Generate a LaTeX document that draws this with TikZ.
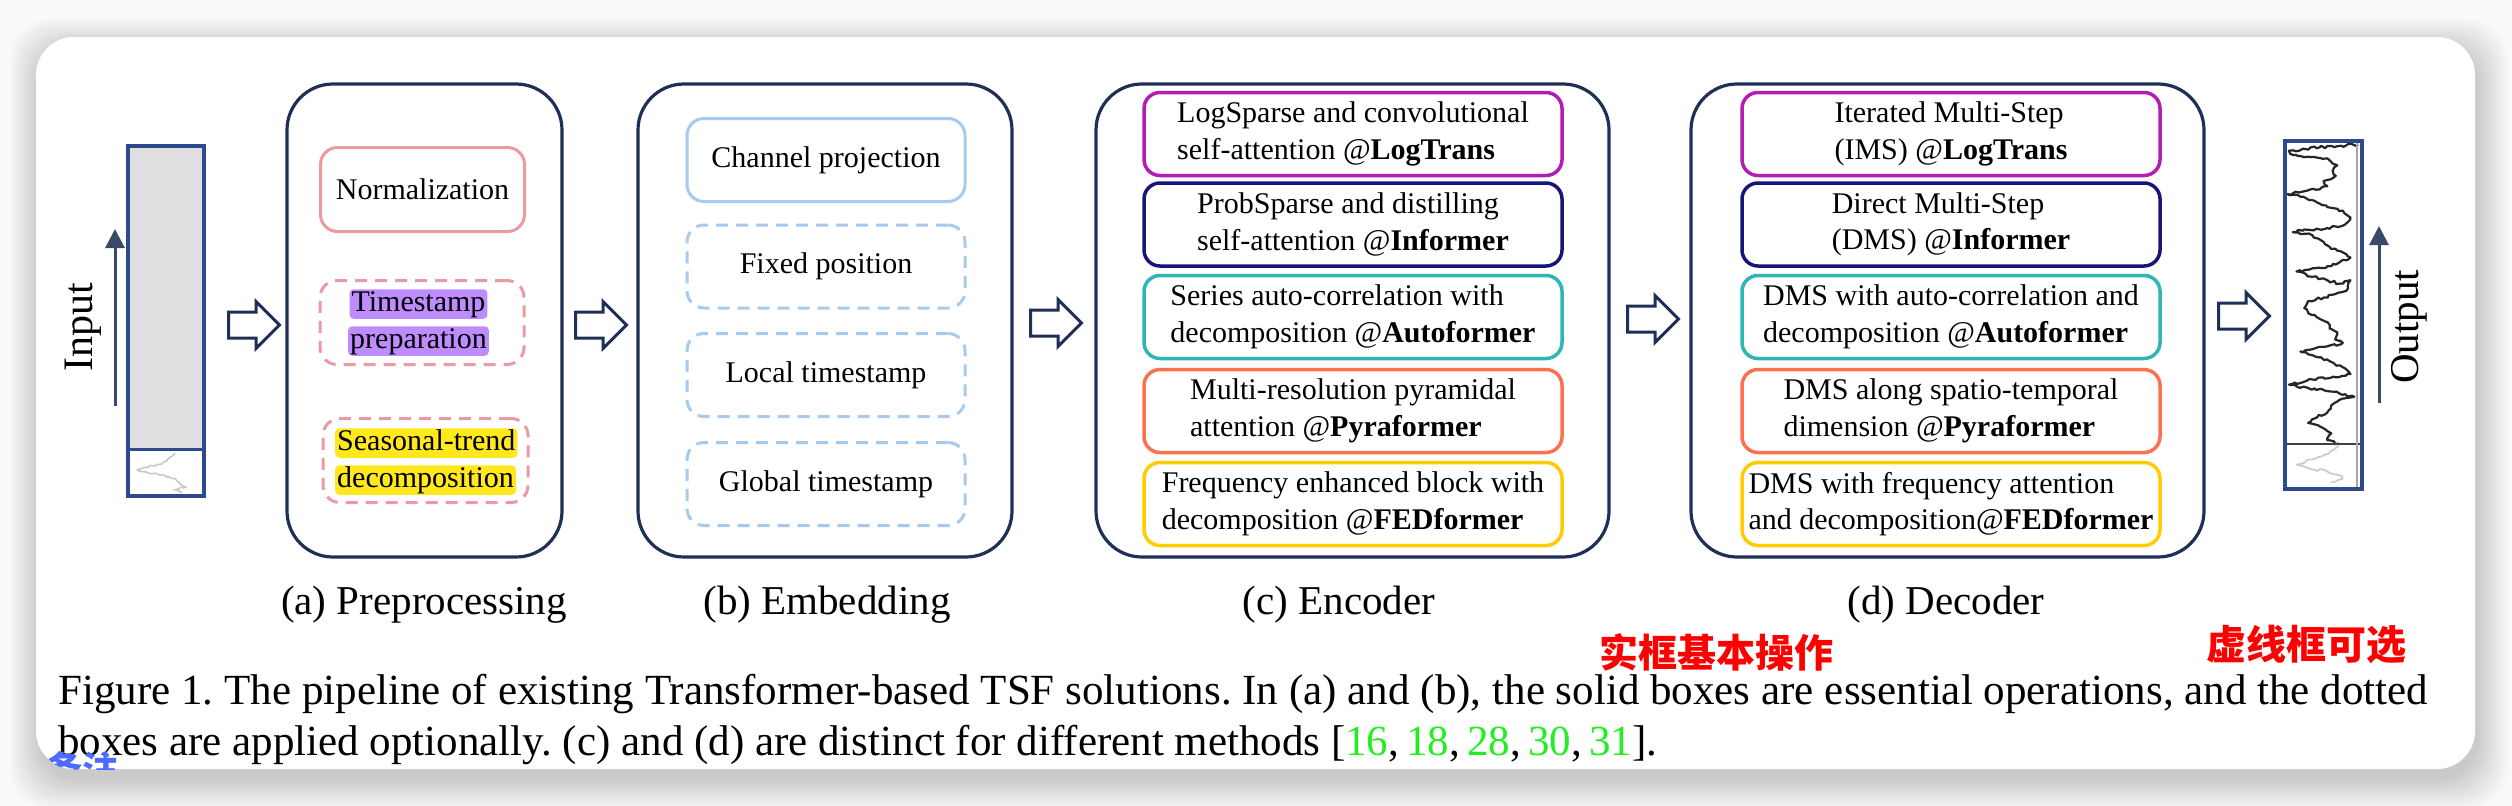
\documentclass[tikz,border=0pt]{standalone}
\usepackage{fontspec}
\setmainfont{Liberation Serif}
\newfontfamily\cjkfont{Noto Sans CJK SC}
\usetikzlibrary{shapes.arrows,arrows.meta,decorations.pathmorphing}
\definecolor{navy}{HTML}{1F2F57}
\definecolor{barblue}{HTML}{2C4A8C}
\definecolor{bargray}{HTML}{E0DEE0}
\definecolor{arrowslate}{HTML}{3A4A66}
\definecolor{pinkc}{HTML}{EA9AA0}
\definecolor{purpleh}{HTML}{BF8CFF}
\definecolor{yellowh}{HTML}{FFE81C}
\definecolor{lblue}{HTML}{A8CAEC}
\definecolor{cmag}{HTML}{B31DB3}
\definecolor{cnavy}{HTML}{15157A}
\definecolor{cteal}{HTML}{2EB6B6}
\definecolor{ccoral}{HTML}{FF7050}
\definecolor{cgold}{HTML}{FFCC00}
\definecolor{cgreen}{HTML}{22EE22}
\definecolor{cred}{HTML}{FF0000}
\definecolor{cblue}{HTML}{4D6BFF}
\definecolor{pagebg}{HTML}{FAFAFA}
\newcommand\fInner{\fontsize{30}{36.5}\selectfont}
\newcommand\fSub{\fontsize{41}{49}\selectfont}
\newcommand\fCap{\fontsize{43}{51}\selectfont}
\newcommand\fSide{\fontsize{42}{50}\selectfont}
\begin{document}
\begin{tikzpicture}[x=1pt,y=-1pt,
  outerbox/.style={draw=navy, line width=3.2pt, rounded corners=46pt, fill=white, inner sep=0pt},
  pinkbox/.style={draw=pinkc, line width=3pt, rounded corners=17pt, inner sep=0pt, minimum width=204pt, minimum height=84pt, font=\fInner},
  bluebox/.style={draw=lblue, line width=3pt, rounded corners=17pt, inner sep=0pt, minimum width=278pt, minimum height=83pt, font=\fInner},
  optbox/.style={dash pattern=on 12pt off 8pt},
  encbox/.style={draw=#1, line width=3.5pt, rounded corners=16pt, minimum width=418pt, minimum height=83pt, inner sep=0pt, align=left, font=\fInner, fill=white},
  hl/.style={fill=#1, rounded corners=4pt, inner xsep=2pt, inner ysep=1pt, text height=21pt, text depth=6.5pt, font=\fInner},
  harrow/.style={single arrow, draw=navy, fill=white, line width=3pt, minimum height=51pt, minimum width=44pt, inner xsep=0pt, inner ysep=11.5pt, single arrow head extend=10.5pt, anchor=tail},
  subcap/.style={anchor=base, font=\fSub, inner sep=0pt},
  vlabel/.style={rotate=90, font=\fSide, inner sep=0pt},
  timearrow/.style={draw=arrowslate, line width=3pt, -{Triangle[length=19pt, width=19pt]}},
  jagged/.style={decorate, decoration={random steps, segment length=3pt, amplitude=1.3pt}}
]
\pgfmathsetseed{7}
\useasboundingbox (0,0) rectangle (2512,806);
\fill[pagebg] (0,0) rectangle (2512,806);
% card shadow
\foreach \i in {0,...,15}{
  \fill[black, opacity=0.011, rounded corners=42pt] ({39-2*\i},{48-2*\i}) rectangle ({2478+2*\i},{780+2*\i});
}
% card
\fill[white, rounded corners=38pt] (36,37) rectangle (2475,769);

% ---------- input bar ----------
\fill[bargray] (128,146) rectangle (204,449);
\fill[white] (128,449) rectangle (204,496);
\begin{scope}[shift={(128,146)}, x=76pt, y=-350pt]
  \draw[black!22, line width=1.6pt, line join=round, jagged]
    (0.62,0.878) -- (0.55,0.89) -- (0.51,0.90) -- (0.38,0.91) -- (0.22,0.918) -- (0.12,0.925)
    -- (0.2,0.93) -- (0.29,0.936) -- (0.42,0.94) -- (0.51,0.945) -- (0.58,0.95) -- (0.64,0.956)
    -- (0.68,0.963) -- (0.71,0.97) -- (0.77,0.975) -- (0.66,0.98) -- (0.6,0.982) -- (0.71,0.99);
\end{scope}
\draw[barblue, line width=3.5pt] (128,146) rectangle (204,496);
\draw[barblue, line width=3pt] (128,449) -- (204,449);
\coordinate (inA) at (115,406);
\coordinate (inB) at (115,229);
\draw[timearrow] (inA) -- (inB);
\node[vlabel] (inlabel) at (83,327) {Input};

% ---------- hollow arrows ----------
\node[harrow] (arr1) at (227,325) {};
\node[harrow] (arr2) at (574,325) {};
\node[harrow] (arr3) at (1029,323) {};
\node[harrow] (arr4) at (1626,319) {};
\node[harrow] (arr5) at (2217,316) {};

% ---------- (a) preprocessing ----------
\node[outerbox, minimum width=275pt, minimum height=473pt] (pre) at (424.5,320.5) {};
\node[pinkbox] (norm) at (422.5,189.5) {Normalization};
\node[pinkbox, optbox] (tsbox) at (422,322.5) {};
\node[hl=purpleh] (ts1) at (418.5,304) {Timestamp};
\node[hl=purpleh] (ts2) at (418.5,341) {preparation};
\node[pinkbox, optbox, minimum width=205pt] (stbox) at (425.5,460.5) {};
\node[hl=yellowh, anchor=west] (st1) at (335,443) {Seasonal-trend};
\node[hl=yellowh, anchor=west] (st2) at (335,480) {decomposition};
\node[subcap] (capa) at (424,614) {(a) Preprocessing};

% ---------- (b) embedding ----------
\node[outerbox, minimum width=374pt, minimum height=473pt] (emb) at (825,320.5) {};
\node[bluebox] (chan) at (826,160) {Channel projection};
\node[bluebox, optbox] (fixpos) at (826,266.5) {Fixed position};
\node[bluebox, optbox] (localts) at (826,375) {Local timestamp};
\node[bluebox, optbox] (globalts) at (826,484) {Global timestamp};
\node[subcap] (capb) at (827,614) {(b) Embedding};

% ---------- (c) encoder ----------
\node[outerbox, minimum width=513pt, minimum height=473pt] (enc) at (1352.5,320.5) {};
\node[encbox=cmag] (e1) at (1353,134) {LogSparse and convolutional\\self-attention @\textbf{LogTrans}};
\node[encbox=cnavy] (e2) at (1353,224.5) {ProbSparse and distilling\\self-attention @\textbf{Informer}};
\node[encbox=cteal] (e3) at (1353,317) {Series auto-correlation with\\decomposition @\textbf{Autoformer}};
\node[encbox=ccoral] (e4) at (1353,411) {Multi-resolution pyramidal\\attention @\textbf{Pyraformer}};
\node[encbox=cgold] (e5) at (1353,504) {Frequency enhanced block with\\decomposition @\textbf{FEDformer}};
\node[subcap] (capc) at (1339,614) {(c) Encoder};

% ---------- (d) decoder ----------
\node[outerbox, minimum width=513pt, minimum height=473pt] (dec) at (1947.5,320.5) {};
\node[encbox=cmag] (d1) at (1951,134) {Iterated Multi-Step\\(IMS) @\textbf{LogTrans}};
\node[encbox=cnavy] (d2) at (1951,224.5) {Direct Multi-Step\\(DMS) @\textbf{Informer}};
\node[encbox=cteal] (d3) at (1951,317) {DMS with auto-correlation and\\decomposition @\textbf{Autoformer}};
\node[encbox=ccoral] (d4) at (1951,411) {DMS along spatio-temporal\\dimension @\textbf{Pyraformer}};
\node[encbox=cgold] (d5) at (1951,504) {DMS with frequency attention\\and decomposition@\textbf{FEDformer}};
\node[subcap] (capd) at (1946,614) {(d) Decoder};

% ---------- output bar ----------
\fill[white] (2285,141) rectangle (2362,489);
\begin{scope}[shift={(2285,141)}, x=77pt, y=-348pt]
  \draw[black!85, line width=2.2pt, line join=round, jagged]
    (0.95,0.01) -- (0.45,0.018) -- (0.05,0.028) -- (0.1,0.04) -- (0.3,0.045) -- (0.55,0.05)
    -- (0.6,0.06) -- (0.68,0.07) -- (0.62,0.085) -- (0.66,0.1) -- (0.5,0.115) -- (0.55,0.13)
    -- (0.4,0.14) -- (0.02,0.152) -- (0.2,0.16) -- (0.35,0.17) -- (0.45,0.18) -- (0.55,0.19)
    -- (0.75,0.2) -- (0.85,0.22) -- (0.78,0.24) -- (0.55,0.25) -- (0.3,0.255) -- (0.1,0.262)
    -- (0.35,0.27) -- (0.5,0.29) -- (0.6,0.31) -- (0.75,0.32) -- (0.85,0.335) -- (0.7,0.35)
    -- (0.55,0.36) -- (0.3,0.37) -- (0.15,0.375) -- (0.35,0.39) -- (0.55,0.4) -- (0.7,0.41)
    -- (0.85,0.40) -- (0.8,0.43) -- (0.65,0.44) -- (0.5,0.45) -- (0.3,0.46) -- (0.25,0.48)
    -- (0.35,0.5) -- (0.55,0.52) -- (0.6,0.54) -- (0.68,0.55) -- (0.65,0.57) -- (0.75,0.58)
    -- (0.55,0.59) -- (0.3,0.6) -- (0.2,0.605) -- (0.4,0.62) -- (0.6,0.635) -- (0.75,0.65)
    -- (0.85,0.67) -- (0.6,0.68) -- (0.35,0.685) -- (0.05,0.7) -- (0.3,0.71) -- (0.6,0.72)
    -- (0.9,0.735) -- (0.7,0.745) -- (0.6,0.76) -- (0.55,0.78) -- (0.35,0.8) -- (0.3,0.81)
    -- (0.45,0.82) -- (0.6,0.84) -- (0.55,0.86) -- (0.7,0.87);
  \draw[black!20, line width=1.8pt, line join=round, jagged]
    (0.7,0.875) -- (0.6,0.89) -- (0.55,0.9) -- (0.35,0.915) -- (0.15,0.93) -- (0.3,0.94)
    -- (0.55,0.95) -- (0.7,0.96) -- (0.75,0.97) -- (0.6,0.98);
\end{scope}
\draw[black!75, line width=1.5pt] (2285,444) -- (2362,444);
\draw[black!35, line width=1.5pt] (2357,141) -- (2357,489);
\draw[barblue, line width=3.5pt] (2285,141) rectangle (2362,489);
\coordinate (outA) at (2379,403);
\coordinate (outB) at (2379,226);
\draw[timearrow] (outA) -- (outB);
\node[vlabel, font=\fontsize{41}{49}\selectfont] (outlabel) at (2409,327) {Output};

% ---------- figure caption ----------
\node[anchor=base west, inner sep=0pt, font=\fCap] (cap1) at (58,704)
  {\frenchspacing\makebox[2370pt][s]{Figure 1. The pipeline of existing Transformer-based TSF solutions. In (a) and (b), the solid boxes are essential operations, and the dotted}};
\node[anchor=base west, inner sep=0pt, font=\fCap] (cap2) at (58,755)
  {\frenchspacing boxes are applied optionally. (c) and (d) are distinct for different methods [\textcolor{cgreen}{16},\,\textcolor{cgreen}{18},\,\textcolor{cgreen}{28},\,\textcolor{cgreen}{30},\,\textcolor{cgreen}{31}].};

% ---------- red notes ----------
\node[inner sep=0pt, text=cred, font=\cjkfont\bfseries\fontsize{39}{39}\selectfont] (noteA) at (1716,652) {实框基本操作};
\node[inner sep=0pt, text=cred, font=\cjkfont\bfseries\fontsize{40}{40}\selectfont] (noteB) at (2306,645) {虚线框可选};

% ---------- clipped blue note ----------
\begin{scope}
  \clip[rounded corners=38pt] (36,37) rectangle (2475,769);
  \node[anchor=base west, inner sep=0pt, text=cblue, font=\cjkfont\bfseries\fontsize{36}{36}\selectfont] (noteC) at (46,782) {备注};
\end{scope}
\end{tikzpicture}
\end{document}
